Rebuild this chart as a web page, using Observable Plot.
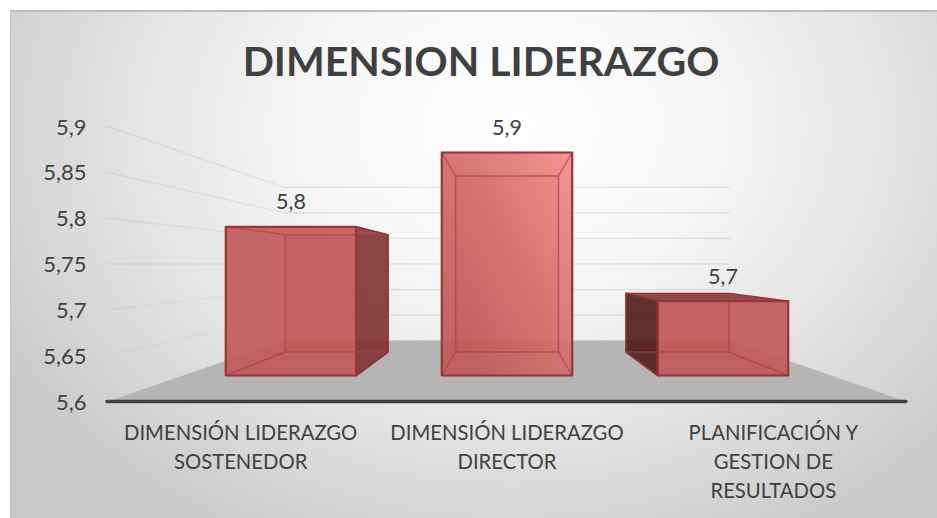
<!DOCTYPE html>
<html><head><meta charset="utf-8">
<script src="https://cdn.jsdelivr.net/npm/d3@7"></script>
<script src="https://cdn.jsdelivr.net/npm/@observablehq/plot@0.6"></script>
<style>
html,body{margin:0;padding:0;background:#fff;overflow:hidden}
#wrap{position:relative;width:937px;height:518px}
#bg{position:absolute;left:10px;top:10px;right:0;bottom:0;border-top:2px solid #bdbdbd;border-left:1px solid #c4c4c4;box-sizing:border-box;
background:radial-gradient(ellipse 600px 480px at 500px 115px,#ffffff 0%,#f8f8f8 30%,#e6e6e6 60%,#c8c8c8 100%)}
#wrap svg{position:absolute;left:0;top:0;background:transparent;overflow:visible}
</style></head><body>
<div id="wrap"><div id="bg"></div></div>
<script>
const titleText = "DIMENSION LIDERAZGO";
const categories = ["DIMENSIÓN LIDERAZGO\nSOSTENEDOR", "DIMENSIÓN LIDERAZGO\nDIRECTOR", "PLANIFICACIÓN Y\nGESTION DE\nRESULTADOS"];
const values = [5.8, 5.9, 5.7];
const valueTicks = [5.6, 5.65, 5.7, 5.75, 5.8, 5.85, 5.9];
const comma = d => String(d).replace(".", ",");

// Perspective of the 3D chart: horizon value and depth factors
const horizon = 5.75, base = 5.6;
const depthWall = 0.557, depthFront = 0.811, depthBack = 0.64, halfBar = 0.302;
const pt = (X, V, S) => ({x: S * X, y: horizon + S * (V - horizon)});

const line = (pts, o) => Plot.line(pts, {x: "x", y: "y", ...o});

const grid = [];
for (const v of valueTicks) {
  if (v === base) continue;
  grid.push(line([pt(-1.5, v, 1), pt(-1.5, v, depthWall)], {stroke: "#000", strokeOpacity: v < horizon ? 0.025 : 0.05, strokeWidth: 1.6}));
  grid.push(line([pt(-1.5, v, depthWall), pt(1.5, v, depthWall)], {stroke: "#000", strokeOpacity: 0.09, strokeWidth: 1.3}));
}
const floor = line(
  [pt(-1.5, base, 1), pt(1.5, base, 1), pt(1.5, base, depthWall), pt(-1.5, base, depthWall), pt(-1.5, base, 1)],
  {fill: "#b5b5b5", stroke: "none"}
);

const innerStroke = {stroke: "#b03f3d", strokeOpacity: 0.42, strokeWidth: 1.4};
const edge = {stroke: "#953735", strokeWidth: 2.2, fill: "none"};
const barMarks = [];
values.forEach((v, i) => {
  const c = i - 1, L = c - halfBar, R = c + halfBar;
  const quad = (a, b, c2, d) => [a, b, c2, d, a];
  const A = (X, V) => pt(X, V, depthFront), B = (X, V) => pt(X, V, depthBack);
  const backQ = quad(B(L, base), B(R, base), B(R, v), B(L, v));
  const bottomQ = quad(A(L, base), A(R, base), B(R, base), B(L, base));
  const leftQ = quad(A(L, base), A(L, v), B(L, v), B(L, base));
  const rightQ = quad(A(R, base), A(R, v), B(R, v), B(R, base));
  const topQ = quad(A(L, v), A(R, v), B(R, v), B(L, v));
  const frontQ = quad(A(L, base), A(R, base), A(R, v), A(L, v));
  // faces seen through the translucent front
  barMarks.push(line(backQ, {fill: "#c0504d", fillOpacity: 0.3, stroke: "none"}));
  // dark outer sides
  if (i === 0) barMarks.push(line(rightQ, {fill: "#752525", fillOpacity: 0.8, stroke: "#7c2d2b", strokeWidth: 1.6}));
  if (i === 2) barMarks.push(line(leftQ, {fill: "#400b0b", fillOpacity: 0.8, stroke: "#7c2d2b", strokeWidth: 1.6}));
  if (v < horizon) barMarks.push(line(topQ, {fill: "#8a3a3a", fillOpacity: 0.9, stroke: "#8a3230", strokeWidth: 1.4}));
  // front face
  barMarks.push(line(frontQ, {fill: i === 1 ? "url(#lit)" : "#c15656", fillOpacity: i === 1 ? 1 : 0.9, stroke: "none"}));
  // inner wireframe on the front
  barMarks.push(line(backQ, {...innerStroke, fill: "none"}));
  barMarks.push(line(bottomQ, {...innerStroke, fill: "none"}));
  if (i !== 2) barMarks.push(line(leftQ, {...innerStroke, fill: "none"}));
  if (i !== 0) barMarks.push(line(rightQ, {...innerStroke, fill: "none"}));
  if (v >= horizon) barMarks.push(line(topQ, {...innerStroke, fill: "none"}));
  barMarks.push(line(frontQ, edge));
});

const labels = values.map((v, i) => ({...pt(i - 1, v, depthFront), t: comma(v)}));

const chart = Plot.plot({
  width: 937, height: 518,
  marginLeft: 107, marginRight: 31, marginTop: 126, marginBottom: 117,
  x: {domain: [-1.5, 1.5]},
  y: {domain: [base, 5.9]},
  style: {fontFamily: "Lato, sans-serif", background: "transparent"},
  marks: [
    ...grid,
    floor,
    ...barMarks,
    Plot.ruleY([base], {x1: -1.5, x2: 1.5, stroke: "#404040", strokeWidth: 3.4, strokeLinecap: "round"}),
    Plot.axisY({ticks: valueTicks, tickFormat: comma, tickSize: 0, tickPadding: 21, fontSize: 22, color: "#404040", label: null, dy: 1}),
    Plot.axisX({ticks: [-1, 0, 1], tickFormat: d => categories[d + 1], tickSize: 0, tickPadding: 18, fontSize: 20.3, lineHeight: 1.42, color: "#404040", label: null}),
    Plot.text(labels, {x: "x", y: "y", text: "t", dy: -24.5, fontSize: 21.5, fill: "#404040"}),
    Plot.text([titleText], {frameAnchor: "top", dx: -26, dy: -80, fontSize: 41, fontWeight: 700, fill: "#404040"})
  ]
});
d3.select(chart).insert("defs", ":first-child").html(
  '<linearGradient id="lit" x1="1" y1="0" x2="0.1" y2="0.8">' +
  '<stop offset="0" stop-color="#f48e8d" stop-opacity="0.95"/>' +
  '<stop offset="0.5" stop-color="#d66f6d" stop-opacity="0.92"/>' +
  '<stop offset="1" stop-color="#c15656" stop-opacity="0.9"/></linearGradient>');
document.getElementById("wrap").appendChild(chart);
</script>
</body></html>
